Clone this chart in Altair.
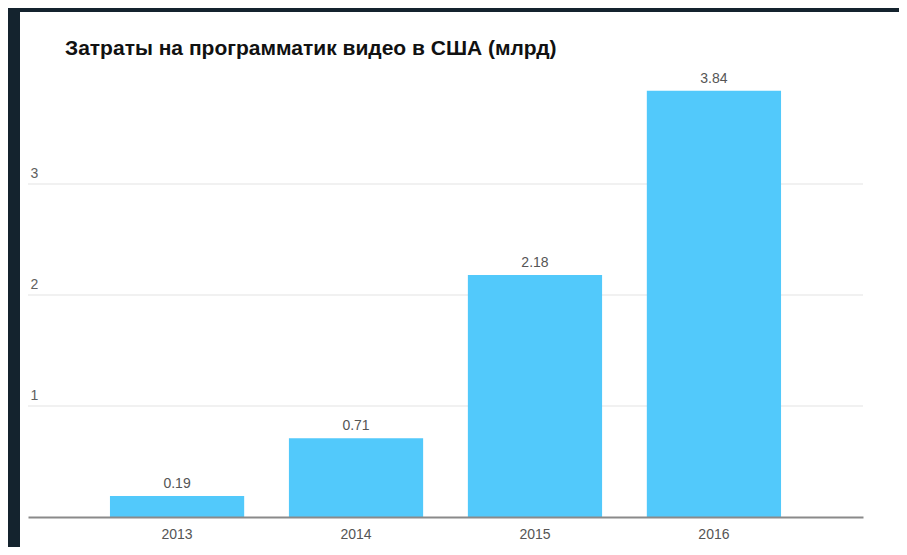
import altair as alt
import pandas as pd

years = ["2013", "2014", "2015", "2016"]
values = [0.19, 0.71, 2.18, 3.84]
value_labels = ["0.19", "0.71", "2.18", "3.84"]
grid_values = [1, 2, 3]

FONT = "Liberation Sans"

df = pd.DataFrame({"year": years, "value": values, "label": value_labels})
grid_df = pd.DataFrame({"value": grid_values})
panel_df = pd.DataFrame({"p": [0]})

x_enc = alt.X(
    "year:N",
    sort=years,
    scale=alt.Scale(paddingInner=0.25, paddingOuter=0.458),
    axis=alt.Axis(
        title=None, labelAngle=0, labelFontSize=14, labelColor="#555555",
        labelPadding=10, ticks=False, tickSize=0, domainColor="#8a8a8a",
        domainWidth=2, zindex=1, labelFont=FONT,
    ),
)
y_scale = alt.Scale(domain=[0, 4], nice=False)
y_axis = alt.Axis(
    title=None, grid=False, values=grid_values, domain=False,
    ticks=False, tickSize=0, labelAlign="left", labelBaseline="bottom",
    labelPadding=-2, labelOffset=-4, labelFontSize=14,
    labelColor="#606060", labelFont=FONT, zindex=1,
)

panel = alt.Chart(panel_df).mark_rect(color="white").encode(
    x=alt.value(-8), x2=alt.value(871), y=alt.value(-61), y2=alt.value(474)
)

grid = alt.Chart(grid_df).mark_rule(color="#e3e3e3", strokeWidth=1).encode(
    y=alt.Y("value:Q", scale=y_scale, axis=y_axis)
)

bars = alt.Chart(df).mark_bar(color="#52c9fb").encode(
    x=x_enc,
    y=alt.Y("value:Q", scale=y_scale, axis=y_axis),
)

texts = alt.Chart(df).mark_text(
    dy=-8, baseline="alphabetic", fontSize=14, color="#555555", font=FONT
).encode(x=alt.X("year:N", sort=years), y=alt.Y("value:Q", scale=y_scale, axis=y_axis), text="label:N")

chart = (
    alt.layer(panel, grid, bars, texts)
    .properties(
        width=835,
        height=444,
        autosize=alt.AutoSizeParams(type="none"),
        padding={"left": 20, "top": 65, "right": 36, "bottom": 30},
        title=alt.TitleParams(
            "Затраты на программатик видео в США (млрд)",
            anchor="start", fontSize=21, fontWeight="bold", color="#111111",
            font=FONT, dx=45, offset=-47,
        ),
    )
    .configure(background="#14232e")
    .configure_view(stroke=None)
)

chart.save("out.html", embed_options={"renderer": "svg", "actions": False})
